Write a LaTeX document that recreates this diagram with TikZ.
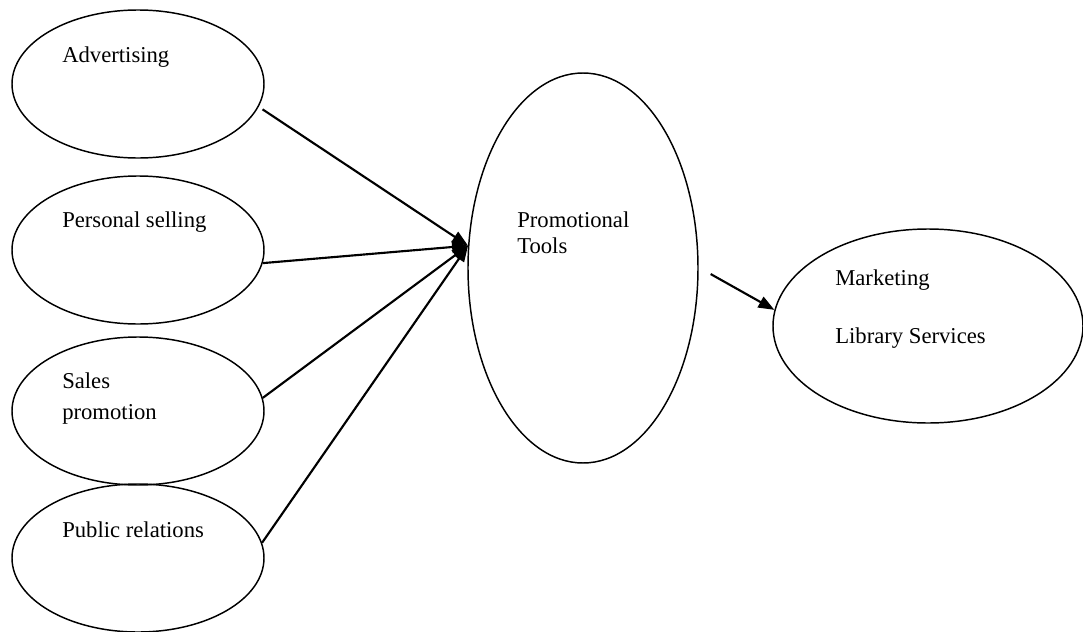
\documentclass[tikz,border=0pt]{standalone}
\usepackage{fontspec}
\setmainfont{Liberation Serif}
\usepackage{tikz}
\usetikzlibrary{arrows.meta}
\usetikzlibrary{shapes.geometric}
\tikzset{
  oval/.style={draw, ellipse, line width=1.1pt, inner sep=0pt},
  mixbox/.style={oval, minimum width=189pt, minimum height=111pt},
  lbltext/.style={anchor=base west, inner sep=0pt, align=left,
                  font=\fontsize{17}{23}\selectfont},
  link/.style={line width=1.6pt, -{Triangle[length=12pt,width=9pt]}}
}

\begin{document}
\begin{tikzpicture}[x=0.75pt,y=0.75pt,yscale=-1,xscale=1]
\useasboundingbox (0,0) rectangle (1083,632);

%Shape: Ellipse [promotion mix]
\node [mixbox] (adv) at (138,84) {};
\node [mixbox] (pers) at (138,250) {};
\node [mixbox] (sales) at (138,411) {};
\node [mixbox] (pub) at (138,558) {};
%Shape: Ellipse [tools]
\node [oval, minimum width=172.5pt, minimum height=292.5pt] (promo) at (583,268) {};
%Shape: Ellipse [marketing]
\node [oval, minimum width=232.5pt, minimum height=145.5pt] (mkt) at (928,326) {};

% Text Node (base = last line)
\node [lbltext] (advtxt) at (62,62) {Advertising};
% Text Node
\node [lbltext] (perstxt) at (62,227) {Personal selling};
% Text Node
\node [lbltext] (salestxt) at (62,419) {Sales\\promotion};
% Text Node
\node [lbltext] (pubtxt) at (62,537) {Public relations};
% Text Node
\node [lbltext, font=\fontsize{17}{19.5}\selectfont] (promotxt) at (517,253) {Promotional\\Tools};
% Text Node
\node [lbltext, font=\fontsize{17}{43.5}\selectfont] (mkttxt) at (835,343) {Marketing\\Library Services};

%Straight Lines
\draw [link] ([xshift=4pt]adv.-12) -- (promo.169);
\draw [link] (pers.-6) -- (promo.169);
\draw [link] (sales.6) -- (promo.169);
\draw [link] (pub.7) -- (promo.169);
\draw [link] ([xshift=9pt]promo.-3) -- (mkt.174);

\end{tikzpicture}
\end{document}
